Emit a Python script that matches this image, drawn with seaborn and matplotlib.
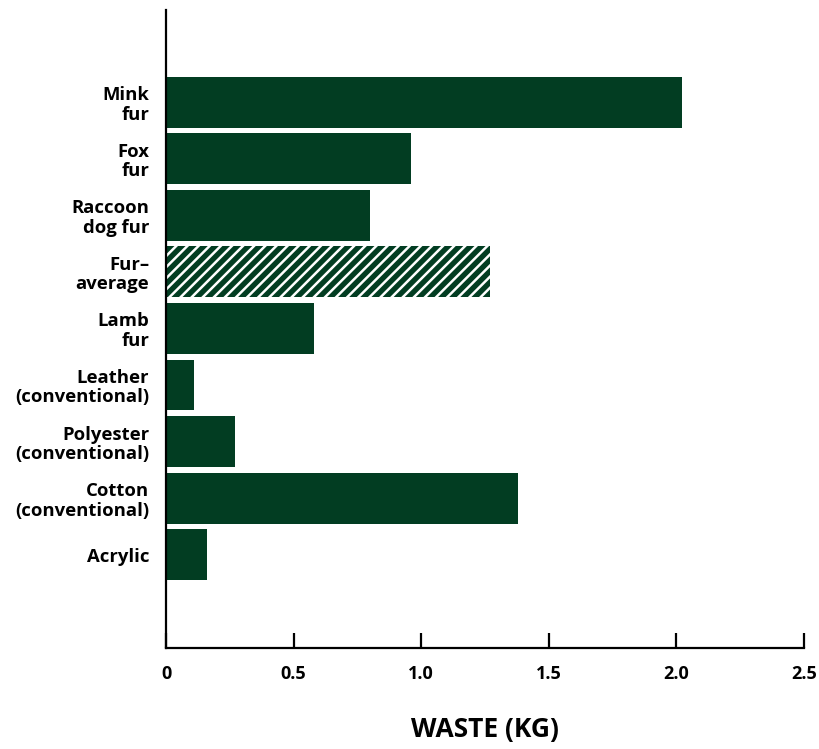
import matplotlib
matplotlib.use("Agg")
import matplotlib.pyplot as plt
import seaborn as sns
import pandas as pd

# data
materials = ["Mink\nfur", "Fox\nfur", "Raccoon\ndog fur", "Fur–\naverage", "Lamb\nfur",
             "Leather\n(conventional)", "Polyester\n(conventional)",
             "Cotton\n(conventional)", "Acrylic"]
waste_kg = [2.02, 0.96, 0.80, 1.27, 0.58, 0.11, 0.27, 1.38, 0.16]
hatched = "Fur–\naverage"

green = "#023d22"

sns.set_style("white")
plt.rcParams["font.family"] = ["Open Sans", "DejaVu Sans"]
plt.rcParams["font.weight"] = "bold"
plt.rcParams["text.color"] = "black"
plt.rcParams["xtick.color"] = "black"
plt.rcParams["ytick.color"] = "black"
plt.rcParams["axes.labelcolor"] = "black"
plt.rcParams["hatch.linewidth"] = 1.8

df = pd.DataFrame({"material": materials, "waste": waste_kg})

fig = plt.figure(figsize=(8.19, 7.49), dpi=100)
ax = fig.add_axes([0.2027, 0.1348, 0.779, 0.8518])

sns.barplot(data=df, x="waste", y="material", orient="h", color=green,
            saturation=1, width=0.9, ax=ax)

for p, m in zip(ax.patches, materials):
    p.set_linewidth(0)
    if m == hatched:
        p.set_hatch("///")
        p.set_edgecolor("white")
        p.set_facecolor(green)

ax.set_xlim(0, 2.5)
ax.set_ylim(9.65, -1.63)
ax.set_xticks([0, 0.5, 1.0, 1.5, 2.0, 2.5])
ax.set_xticklabels(["0", "0.5", "1.0", "1.5", "2.0", "2.5"])

for s in ["top", "right"]:
    ax.spines[s].set_visible(False)
for s in ["left", "bottom"]:
    ax.spines[s].set_linewidth(1.6)
    ax.spines[s].set_color("black")

ax.tick_params(axis="x", direction="in", length=11, width=1.6, pad=12,
               labelsize=13, colors="black", bottom=True)
ax.tick_params(axis="y", length=0, pad=12, labelsize=13.3, colors="black")
for t in ax.get_xticklabels() + ax.get_yticklabels():
    t.set_fontweight("bold")
for t in ax.get_yticklabels():
    t.set_linespacing(1.1)

ax.set_ylabel("")
ax.set_xlabel("WASTE (KG)", fontsize=19, fontweight="bold", labelpad=24,
              color="black")

fig.savefig("out.png", dpi=100)
